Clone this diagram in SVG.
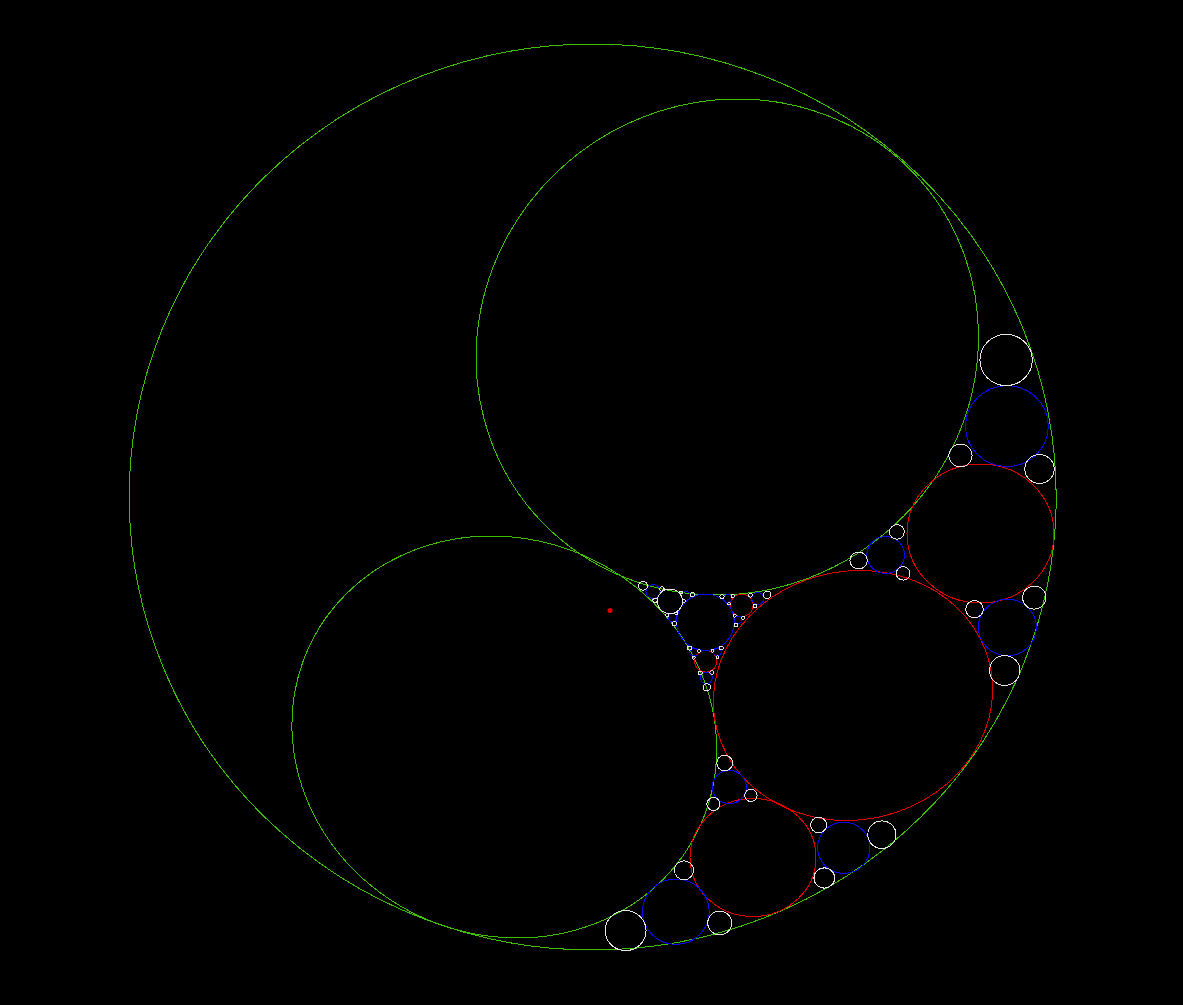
<svg xmlns="http://www.w3.org/2000/svg" width="1183" height="1005" viewBox="0 0 1183 1005">
<style>
.c{fill:none;stroke-width:1;shape-rendering:crispEdges}
.g{stroke:#3cc000}
.r{stroke:#e00000}
.b{stroke:#0a0af0}
.w{stroke:#e6e6e6}
</style>
<rect width="1183" height="1005" fill="#000"/>
<g id="green" class="c g">
<ellipse id="outer" cx="592.7" cy="497" rx="463.5" ry="453"/>
<ellipse id="upper" rx="251" ry="248" transform="matrix(1 0 -0.043 1 727.3 347)"/>
<ellipse id="lower" rx="212" ry="201" transform="matrix(1 0 0.064 1 504.3 737)"/>
</g>
<g id="red" class="c r">
<ellipse rx="139.5" ry="125" transform="matrix(1 0 -0.054 1 853 695.5)"/>
<ellipse cx="980.5" cy="533.5" rx="73.5" ry="69.5"/>
<ellipse cx="753" cy="857.5" rx="63" ry="59"/>
<ellipse cx="741.7" cy="605.3" rx="11.4" ry="11.2"/>
<ellipse cx="705.7" cy="661.3" rx="11.1" ry="10.9"/>
</g>
<g id="blue" class="c b">
<ellipse cx="1006.9" cy="426.1" rx="41.4" ry="40.4"/>
<ellipse cx="885.6" cy="555" rx="18.8" ry="18.4"/>
<ellipse cx="1007.4" cy="627.4" rx="29" ry="28.3"/>
<ellipse cx="675.9" cy="911.7" rx="33.4" ry="32.7"/>
<ellipse cx="729.3" cy="787" rx="17" ry="16.6"/>
<ellipse cx="843.8" cy="847.8" rx="26.2" ry="25.6"/>
<ellipse cx="705.4" cy="622.2" rx="28.85" ry="28.2"/>
<ellipse cx="653" cy="591.5" rx="7.06" ry="6.9"/>
<ellipse cx="685.9" cy="595.9" rx="4.32" ry="4.22"/>
<ellipse cx="672.6" cy="617.5" rx="4.28" ry="4.18"/>
<ellipse cx="757.8" cy="598.5" rx="6.11" ry="5.98"/>
<ellipse cx="727.8" cy="598.6" rx="4.08" ry="3.99"/>
<ellipse cx="738.1" cy="619.8" rx="3.91" ry="3.83"/>
<ellipse cx="706.4" cy="677.9" rx="5.91" ry="5.77"/>
<ellipse cx="693.8" cy="652.2" rx="3.99" ry="3.9"/>
<ellipse cx="717.3" cy="652" rx="3.86" ry="3.77"/>
</g>
<g id="white" class="c w">
<ellipse cx="1006.1" cy="360" rx="26.2" ry="25.6"/>
<ellipse cx="1039.5" cy="469" rx="14.7" ry="14.4"/>
<ellipse cx="960.5" cy="455.5" rx="11.6" ry="11.3"/>
<ellipse cx="858.6" cy="560.5" rx="8.7" ry="8.5"/>
<ellipse cx="896.9" cy="531.9" rx="7.4" ry="7.3"/>
<ellipse cx="903.1" cy="573.4" rx="6.9" ry="6.7"/>
<ellipse cx="1004.7" cy="670.5" rx="15.2" ry="14.9"/>
<ellipse cx="1034.3" cy="597.6" rx="11.7" ry="11.5"/>
<ellipse cx="974.5" cy="609.2" rx="8.8" ry="8.6"/>
<ellipse cx="625.6" cy="930.6" rx="20.45" ry="20"/>
<ellipse cx="719.8" cy="923" rx="12.05" ry="11.8"/>
<ellipse cx="684" cy="870.3" rx="9.6" ry="9.4"/>
<ellipse cx="724.7" cy="763" rx="7.9" ry="7.8"/>
<ellipse cx="713.5" cy="804" rx="6.6" ry="6.4"/>
<ellipse cx="750.9" cy="795.4" rx="6.25" ry="6.1"/>
<ellipse cx="881.9" cy="834.7" rx="14.1" ry="13.8"/>
<ellipse cx="824.3" cy="878" rx="10.35" ry="10.1"/>
<ellipse cx="818.7" cy="825" rx="8" ry="7.8"/>
<ellipse cx="669.9" cy="601.3" rx="12.6" ry="12.3"/>
<ellipse cx="643" cy="585.8" rx="4.51" ry="4.41"/>
<ellipse cx="661.9" cy="589" rx="2.24" ry="2.19"/>
<ellipse cx="655.1" cy="600.3" rx="2.23" ry="2.18"/>
<ellipse cx="692.3" cy="594.7" rx="2.17" ry="2.12"/>
<ellipse cx="681" cy="592.5" rx="1.68" ry="1.64"/>
<ellipse cx="683.9" cy="601.2" rx="1.46" ry="1.42"/>
<ellipse cx="674.4" cy="623.6" rx="2.14" ry="2.09"/>
<ellipse cx="667.3" cy="615" rx="1.66" ry="1.63"/>
<ellipse cx="676.4" cy="613.4" rx="1.45" ry="1.42"/>
<ellipse cx="767.1" cy="594.9" rx="3.81" ry="3.72"/>
<ellipse cx="750.4" cy="595.3" rx="1.99" ry="1.94"/>
<ellipse cx="755.1" cy="605.9" rx="1.95" ry="1.9"/>
<ellipse cx="722" cy="596.7" rx="2.08" ry="2.04"/>
<ellipse cx="732.8" cy="596.1" rx="1.57" ry="1.53"/>
<ellipse cx="729" cy="603.8" rx="1.37" ry="1.34"/>
<ellipse cx="736" cy="625.2" rx="1.97" ry="1.93"/>
<ellipse cx="743.1" cy="617.8" rx="1.5" ry="1.47"/>
<ellipse cx="734.8" cy="615.8" rx="1.34" ry="1.31"/>
<ellipse cx="706.9" cy="687.3" rx="3.66" ry="3.58"/>
<ellipse cx="700.4" cy="672.9" rx="1.92" ry="1.88"/>
<ellipse cx="711.9" cy="672.5" rx="1.89" ry="1.85"/>
<ellipse cx="689.5" cy="648.1" rx="2.04" ry="1.99"/>
<ellipse cx="693.6" cy="657.6" rx="1.52" ry="1.49"/>
<ellipse cx="699" cy="651" rx="1.34" ry="1.31"/>
<ellipse cx="721.4" cy="647.9" rx="1.95" ry="1.91"/>
<ellipse cx="717.6" cy="657.2" rx="1.48" ry="1.44"/>
<ellipse cx="712.3" cy="650.9" rx="1.32" ry="1.29"/>
</g>
<circle id="point" cx="610" cy="610.5" r="2.5" fill="#e00000"/>
</svg>
